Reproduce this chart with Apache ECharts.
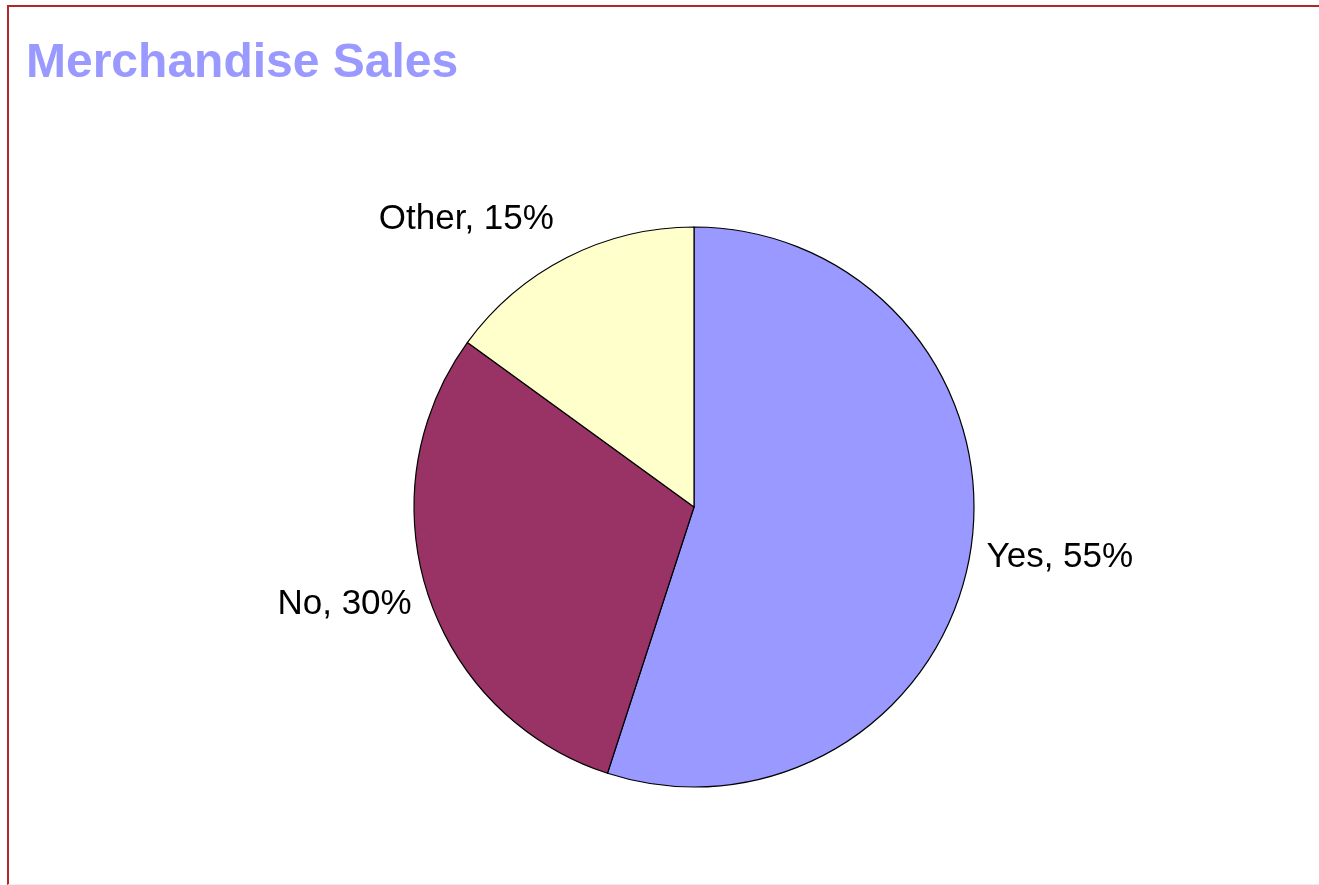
<!DOCTYPE html>
<html>
<head>
<meta charset="utf-8">
<title>Merchandise Sales</title>
<script src="https://cdn.jsdelivr.net/npm/echarts@6/dist/echarts.min.js"></script>
<style>
  html, body { margin: 0; padding: 0; background: #fff; }
  #main { position: absolute; left: 0; top: 0; width: 1319px; height: 885px; }
  #frame {
    position: absolute; left: 7px; top: 5px; right: -4px; bottom: 0;
    border-left: 2px solid #b02828; border-top: 2px solid #b02828;
    border-bottom: 1px solid #fde8e8;
    pointer-events: none;
  }
</style>
</head>
<body>
<div id="main"></div>
<div id="frame"></div>
<script>
var categories = ['Yes', 'No', 'Other'];
var shares = [55, 30, 15];
var sliceColors = ['#9999FF', '#993366', '#FFFFCC'];

var pieData = [];
for (var i = 0; i < categories.length; i++) {
	pieData.push({
		name: categories[i],
		value: shares[i],
		itemStyle: { color: sliceColors[i] }
	});
}

// small nudges so labels sit where the original chart put them
var labelNudge = [[11, 7], [-11, 11], [-8, -38]];

var myChart = echarts.init(document.getElementById('main'));

var option = {
	animation: false,
	backgroundColor: '#ffffff',
	title: {
		text: 'Merchandise Sales',
		left: 21,
		top: 35,
		textStyle: {
			color: '#9999FF',
			fontFamily: 'Liberation Sans, Arial, sans-serif',
			fontWeight: 'bold',
			fontSize: 48
		}
	},
	series: [{
		type: 'pie',
		center: [694, 507],
		radius: 280,
		startAngle: 90,
		clockwise: true,
		avoidLabelOverlap: false,
		itemStyle: {
			borderColor: '#000000',
			borderWidth: 1.2
		},
		label: {
			show: true,
			position: 'outside',
			formatter: function (p) {
				return p.name + ', ' + p.value + '%';
			},
			color: '#000000',
			fontFamily: 'Liberation Sans, Arial, sans-serif',
			fontSize: 35
		},
		labelLine: {
			show: false,
			length: 0,
			length2: 0
		},
		labelLayout: function (params) {
			var n = labelNudge[params.dataIndex];
			return { dx: n[0], dy: n[1] };
		},
		emphasis: { disabled: true },
		data: pieData
	}]
};

myChart.setOption(option);
</script>
</body>
</html>
